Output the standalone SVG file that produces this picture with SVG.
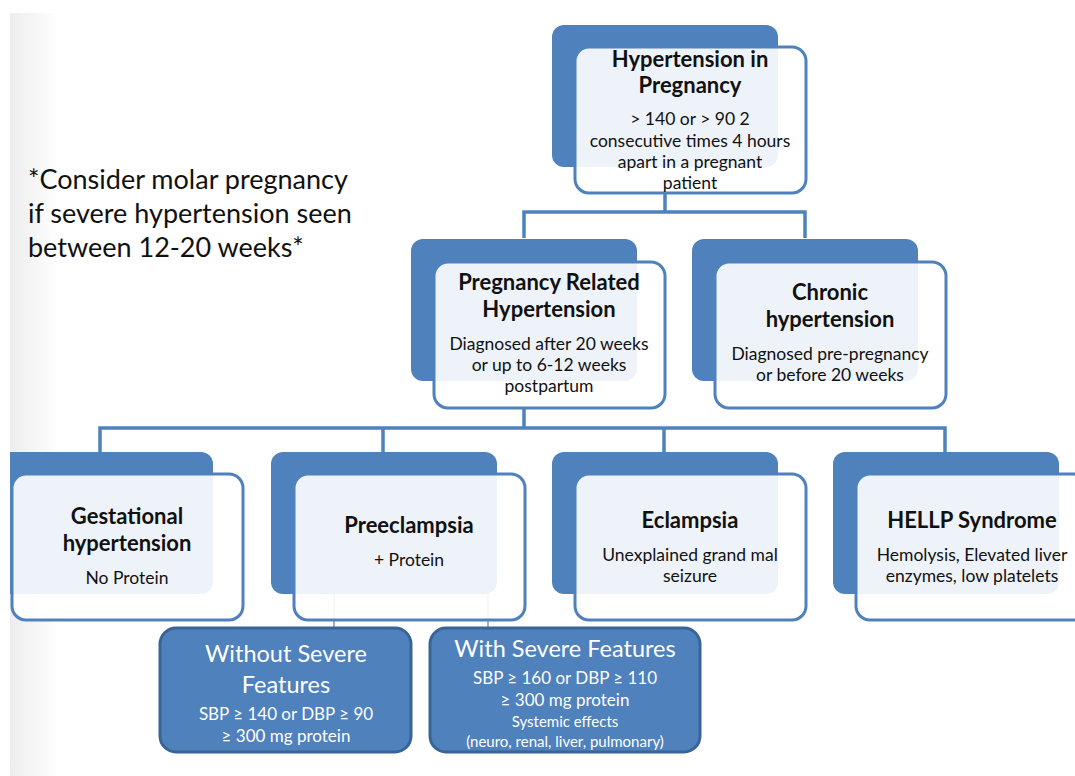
<svg xmlns="http://www.w3.org/2000/svg" width="1075" height="776" viewBox="0 0 1075 776">
<defs>
<linearGradient id="edge" x1="0" y1="0" x2="1" y2="0">
<stop offset="0" stop-color="#ededed"/>
<stop offset="1" stop-color="#ffffff"/>
</linearGradient>
</defs>
<style>
.back{fill:#4f81bd;}
.front{fill:#ffffff;fill-opacity:0.9;stroke:#4f81bd;stroke-width:3;}
.conn{fill:none;stroke:#4f81bd;stroke-width:3.5;}
.thin{fill:none;stroke:#4f81bd;stroke-width:1.2;}
.dark{fill:#4f81bd;stroke:#3a6496;stroke-width:3;}
.h{font-family:Lato,"Liberation Sans",sans-serif;font-weight:bold;font-size:22px;fill:#111;text-anchor:middle;}
.b{font-family:Lato,"Liberation Sans",sans-serif;font-size:17.5px;fill:#111;text-anchor:middle;}
.wt{font-family:Lato,"Liberation Sans",sans-serif;font-size:23.5px;fill:#fff;text-anchor:middle;}
.wb{font-family:Lato,"Liberation Sans",sans-serif;font-size:17px;fill:#fff;text-anchor:middle;}
.ws{font-family:Lato,"Liberation Sans",sans-serif;font-size:15px;fill:#fff;text-anchor:middle;}
.note{font-family:Lato,"Liberation Sans",sans-serif;font-size:27px;fill:#111;}
</style>
<rect x="0" y="0" width="1075" height="776" fill="#ffffff"/>
<rect x="10" y="13" width="50" height="763" fill="url(#edge)"/>

<g id="note">
<text class="note" x="28" y="189">*Consider molar pregnancy</text>
<text class="note" x="28" y="223">if severe hypertension seen</text>
<text class="note" x="28" y="257">between 12-20 weeks*</text>
</g>

<g id="connectors">
<path class="conn" d="M665 193 V212 M524 238 V212 H805 V238"/>
<path class="conn" d="M524 407 V428 M100 452 V428 H945 V452 M383 428 V452 M664 428 V452"/>
<path class="thin" d="M334 592 V629 M488 592 V629"/>
</g>

<g id="node-hip">
<rect class="back" x="552" y="25" width="226" height="142" rx="12"/>
<rect class="front" x="575" y="47" width="231" height="146" rx="14"/>
<text class="h" x="690" y="67">Hypertension in</text>
<text class="h" x="690" y="93">Pregnancy</text>
<text class="b" x="690" y="125">&gt; 140 or &gt; 90 2</text>
<text class="b" x="690" y="147">consecutive times 4 hours</text>
<text class="b" x="690" y="168">apart in a pregnant</text>
<text class="b" x="690" y="189">patient</text>
</g>

<g id="node-prh">
<rect class="back" x="411" y="239" width="226" height="142" rx="12"/>
<rect class="front" x="434" y="262" width="231" height="146" rx="14"/>
<text class="h" x="549" y="290">Pregnancy Related</text>
<text class="h" x="549" y="317">Hypertension</text>
<text class="b" x="549" y="350">Diagnosed after 20 weeks</text>
<text class="b" x="549" y="371">or up to 6-12 weeks</text>
<text class="b" x="549" y="392">postpartum</text>
</g>

<g id="node-chronic">
<rect class="back" x="692" y="239" width="226" height="142" rx="12"/>
<rect class="front" x="715" y="262" width="231" height="146" rx="14"/>
<text class="h" x="830" y="300">Chronic</text>
<text class="h" x="830" y="327">hypertension</text>
<text class="b" x="830" y="360">Diagnosed pre-pregnancy</text>
<text class="b" x="830" y="381">or before 20 weeks</text>
</g>

<g id="node-gestational">
<rect class="back" x="-13" y="452" width="226" height="142" rx="12"/>
<rect class="front" x="12" y="474" width="231" height="146" rx="14"/>
<text class="h" x="127" y="524">Gestational</text>
<text class="h" x="127" y="551">hypertension</text>
<text class="b" x="127" y="584">No Protein</text>
</g>

<g id="node-preeclampsia">
<rect class="back" x="271" y="452" width="226" height="142" rx="12"/>
<rect class="front" x="294" y="474" width="231" height="146" rx="14"/>
<text class="h" x="409" y="533">Preeclampsia</text>
<text class="b" x="409" y="566">+ Protein</text>
</g>

<g id="node-eclampsia">
<rect class="back" x="552" y="452" width="226" height="142" rx="12"/>
<rect class="front" x="575" y="474" width="231" height="146" rx="14"/>
<text class="h" x="690" y="528">Eclampsia</text>
<text class="b" x="690" y="561">Unexplained grand mal</text>
<text class="b" x="690" y="582">seizure</text>
</g>

<g id="node-hellp">
<rect class="back" x="833" y="452" width="226" height="142" rx="12"/>
<rect class="front" x="856" y="474" width="231" height="146" rx="14"/>
<text class="h" x="972" y="528">HELLP Syndrome</text>
<text class="b" x="972" y="561">Hemolysis, Elevated liver</text>
<text class="b" x="972" y="582">enzymes, low platelets</text>
</g>

<g id="node-without">
<rect class="dark" x="160" y="628" width="251" height="124" rx="16"/>
<text class="wt" x="286" y="662">Without Severe</text>
<text class="wt" x="286" y="693">Features</text>
<text class="wb" x="286" y="720">SBP ≥ 140 or DBP ≥ 90</text>
<text class="wb" x="286" y="742">≥ 300 mg protein</text>
</g>

<g id="node-with">
<rect class="dark" x="430" y="628" width="270" height="124" rx="16"/>
<text class="wt" x="565" y="657">With Severe Features</text>
<text class="wb" x="565" y="684">SBP ≥ 160 or DBP ≥ 110</text>
<text class="wb" x="565" y="706">≥ 300 mg protein</text>
<text class="ws" x="565" y="727">Systemic effects</text>
<text class="ws" x="565" y="747">(neuro, renal, liver, pulmonary)</text>
</g>

<rect x="0" y="0" width="10" height="776" fill="#ffffff"/>
</svg>
